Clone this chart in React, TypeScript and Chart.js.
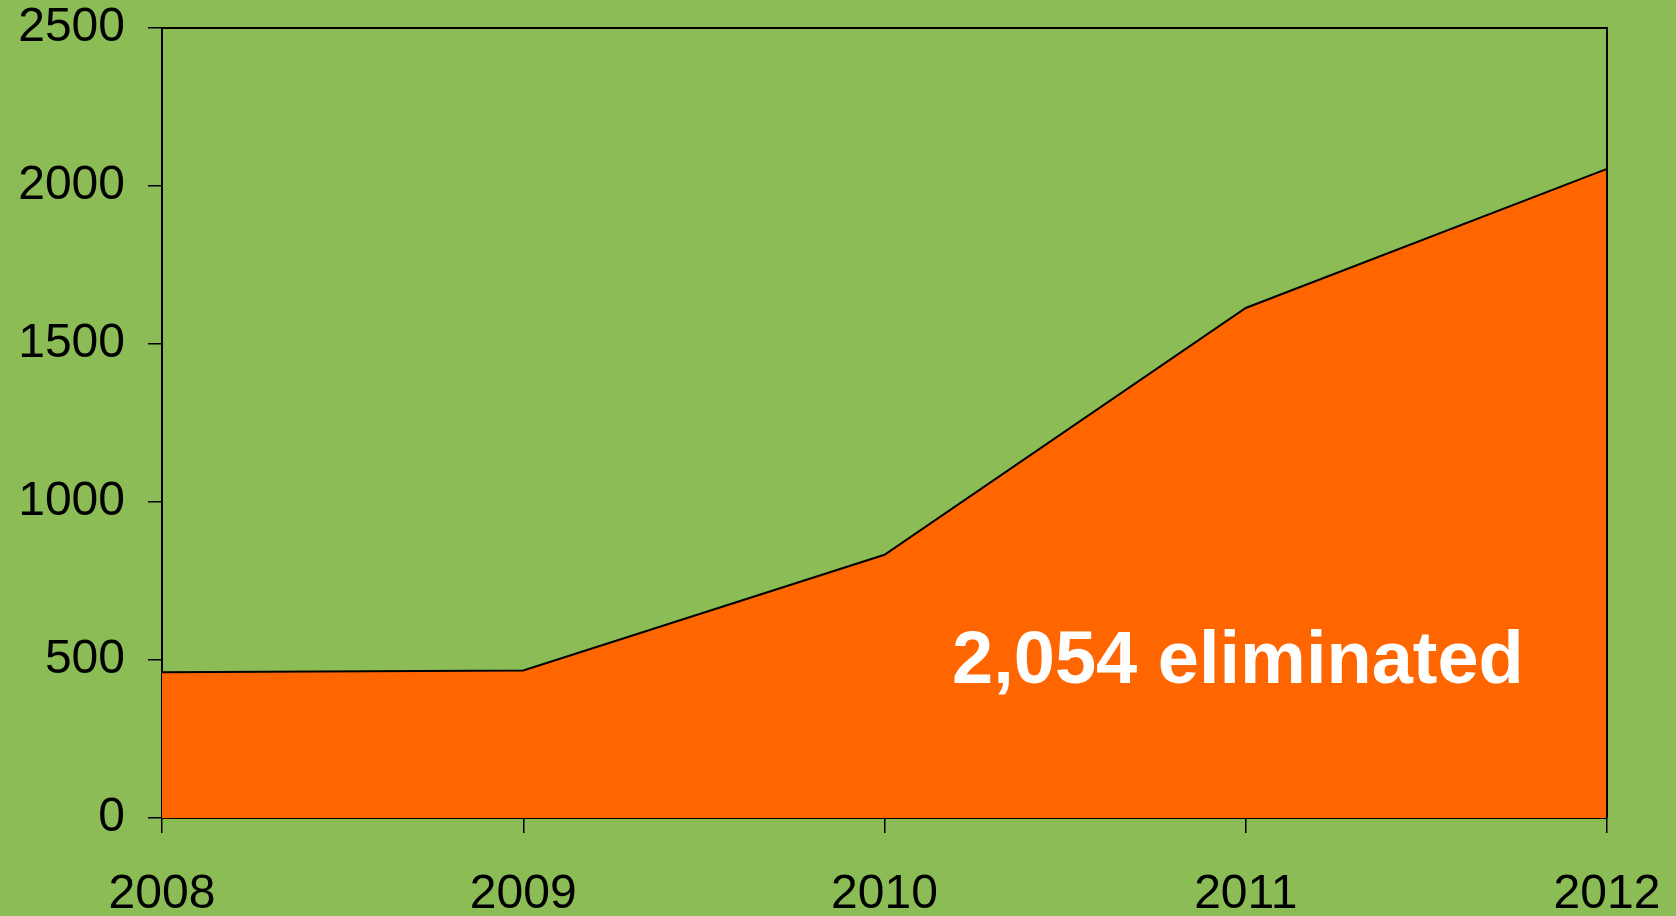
import React, { useEffect, useRef } from "react";
import { Chart, registerables } from "chart.js";

Chart.register(...registerables);

const years = ["2008", "2009", "2010", "2011", "2012"];
const eliminated = [461, 467, 833, 1614, 2054];
const yTicks = [0, 500, 1000, 1500, 2000, 2500];
const annotationSuffix = " eliminated";

const GREEN = "#8BBC55";
const ORANGE = "#FF6600";
const FONT = "'Liberation Sans', Arial, Helvetica, sans-serif";

const frameAndLabel = {
  id: "frameAndLabel",
  afterDatasetsDraw(chart: any) {
    const { ctx, chartArea } = chart;
    const { left, right, top, bottom } = chartArea;
    ctx.save();
    ctx.strokeStyle = "#000";
    ctx.lineWidth = 2;
    ctx.beginPath();
    ctx.moveTo(left, top);
    ctx.lineTo(right, top);
    ctx.lineTo(right, bottom);
    ctx.stroke();
    const total = eliminated[eliminated.length - 1];
    const txt = total.toLocaleString("en-US") + annotationSuffix;
    ctx.fillStyle = "#FFFFFF";
    ctx.font = "bold 74px " + FONT;
    ctx.textAlign = "center";
    ctx.textBaseline = "alphabetic";
    const cx = left + (right - left) * 0.7446;
    const by = top + (bottom - top) * 0.829;
    ctx.fillText(txt, cx, by);
    ctx.restore();
  },
};

export default function App() {
  const ref = useRef<HTMLCanvasElement | null>(null);
  useEffect(() => {
    document.body.style.margin = "0";
    document.body.style.background = GREEN;
    const chart = new Chart(ref.current as HTMLCanvasElement, {
      type: "line",
      data: {
        labels: years,
        datasets: [
          {
            data: eliminated,
            fill: "origin",
            backgroundColor: ORANGE,
            borderColor: "#000",
            borderWidth: 2,
            pointRadius: 0,
            tension: 0,
          },
        ],
      },
      options: {
        animation: false,
        responsive: false,
        maintainAspectRatio: false,
        layout: { padding: { top: 28, right: 69, left: 0, bottom: 0 } },
        plugins: { legend: { display: false }, tooltip: { enabled: false } },
        scales: {
          x: {
            type: "category",
            offset: false,
            grid: {
              drawOnChartArea: false,
              drawTicks: true,
              tickLength: 15,
              color: "#000",
              lineWidth: 1.5,
            },
            border: { display: true, color: "#000", width: 2 },
            ticks: {
              color: "#000",
              font: { family: FONT, size: 48 },
              padding: 33,
              maxRotation: 0,
              autoSkip: false,
            },
            afterFit(scale: any) {
              scale.height = 98;
              scale.paddingLeft = 0;
              scale.paddingRight = 0;
            },
          },
          y: {
            min: 0,
            max: 2500,
            afterBuildTicks(scale: any) {
              scale.ticks = yTicks.map((v) => ({ value: v }));
            },
            grid: {
              drawOnChartArea: false,
              drawTicks: true,
              tickLength: 14,
              color: "#000",
              lineWidth: 1.5,
            },
            border: { display: true, color: "#000", width: 2 },
            ticks: {
              color: "#000",
              font: { family: FONT, size: 48 },
              padding: 23,
              callback: (v: any) => String(v),
            },
            afterFit(scale: any) {
              scale.width = 162;
              scale.paddingTop = 0;
              scale.paddingBottom = 0;
            },
          },
        },
      },
      plugins: [frameAndLabel],
    });
    return () => chart.destroy();
  }, []);
  return (
    <div style={{ position: "fixed", left: 0, top: 0, width: 1676, height: 916, background: GREEN }}>
      <canvas ref={ref} width={1676} height={916} style={{ display: "block" }} />
    </div>
  );
}
